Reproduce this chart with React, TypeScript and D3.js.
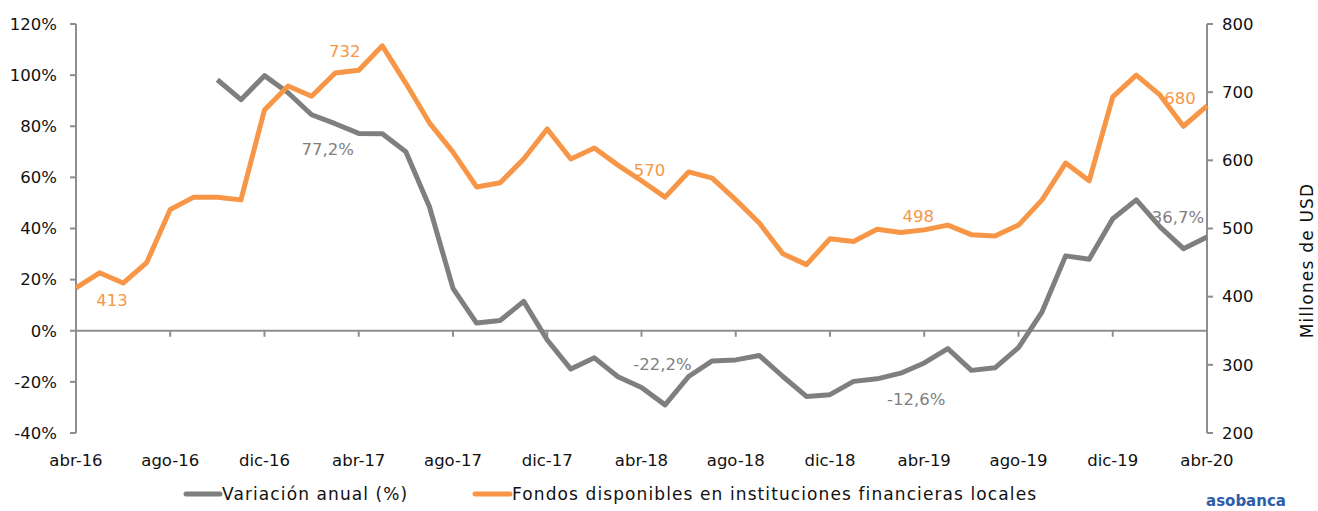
import React from "react";
import * as d3 from "d3";

const months = [
  "abr-16","may-16","jun-16","jul-16","ago-16","sep-16","oct-16","nov-16","dic-16",
  "ene-17","feb-17","mar-17","abr-17","may-17","jun-17","jul-17","ago-17","sep-17","oct-17","nov-17","dic-17",
  "ene-18","feb-18","mar-18","abr-18","may-18","jun-18","jul-18","ago-18","sep-18","oct-18","nov-18","dic-18",
  "ene-19","feb-19","mar-19","abr-19","may-19","jun-19","jul-19","ago-19","sep-19","oct-19","nov-19","dic-19",
  "ene-20","feb-20","mar-20","abr-20"
];

const fondos = [
  413, 435, 420, 450, 528, 546, 546, 542, 674,
  709, 694, 728, 732, 768, 713, 655, 612, 561, 567, 602, 646,
  602, 618, 593, 570, 546, 583, 574, 542, 508, 463, 447, 485,
  481, 499, 494, 498, 505, 491, 489, 505, 542, 596, 570, 693,
  725, 696, 650, 680
];

const variacion: (number | null)[] = [
  null, null, null, null, null, null, 98.2, 90.4, 99.8,
  93.1, 84.5, 81.0, 77.2, 77.1, 70.0, 48.5, 16.6, 3.0, 4.0, 11.5, -3.6,
  -15.0, -10.6, -18.0, -22.2, -29.0, -17.9, -11.8, -11.4, -9.7, -17.9, -25.7, -25.0,
  -19.8, -18.8, -16.6, -12.6, -7.0, -15.5, -14.5, -6.6, 7.4, 29.3, 28.0, 43.8,
  51.2, 40.7, 32.1, 36.7
];

const leftTicks = [-40, -20, 0, 20, 40, 60, 80, 100, 120];
const rightTicks = [200, 300, 400, 500, 600, 700, 800];
const xTickLabels = ["abr-16","ago-16","dic-16","abr-17","ago-17","dic-17","abr-18","ago-18","dic-18","abr-19","ago-19","dic-19","abr-20"];

const fondosLabels = [
  { m: "abr-16", text: "413", dx: 36, dy: 12 },
  { m: "abr-17", text: "732", dx: -14, dy: -19 },
  { m: "abr-18", text: "570", dx: 8, dy: -11 },
  { m: "abr-19", text: "498", dx: -6, dy: -14 },
  { m: "abr-20", text: "680", dx: -27, dy: -8 },
];
const variacionLabels = [
  { m: "abr-17", text: "77,2%", dx: -31, dy: 16 },
  { m: "abr-18", text: "-22,2%", dx: 21, dy: -23 },
  { m: "abr-19", text: "-12,6%", dx: -8, dy: 36 },
  { m: "abr-20", text: "36,7%", dx: -29, dy: -20 },
];

const ORANGE = "#F79646";
const GRAY = "#7F7F7F";
const AXIS = "#8E8E8E";
const FONT = "'DejaVu Sans', 'Open Sans', sans-serif";

export default function App() {
  const W = 1318, H = 511;
  const x0 = 76, x1 = 1207, yTop = 24, yBot = 433;
  const x = d3.scalePoint<string>().domain(months).range([x0, x1]);
  const yL = d3.scaleLinear().domain([-40, 120]).range([yBot, yTop]);
  const yR = d3.scaleLinear().domain([200, 800]).range([yBot, yTop]);

  const lineF = d3.line<number>().x((_, i) => x(months[i])!).y((d) => yR(d));
  const lineV = d3
    .line<number | null>()
    .defined((d) => d !== null)
    .x((_, i) => x(months[i])!)
    .y((d) => yL(d as number));

  const fs = 16.5;
  return (
    <svg width={W} height={H} style={{ position: "absolute", left: 0, top: 0, background: "#fff" }} fontFamily={FONT}>
      {/* left axis */}
      <line x1={x0} x2={x0} y1={yTop} y2={yBot} stroke={AXIS} strokeWidth={2} />
      {leftTicks.map((t) => (
        <g key={"l" + t}>
          <line x1={x0 - 6} x2={x0} y1={yL(t)} y2={yL(t)} stroke={AXIS} strokeWidth={2} />
          <text x={57} y={yL(t)} dy="0.35em" textAnchor="end" fontSize={fs} fill="#111">{t}%</text>
        </g>
      ))}
      {/* right axis */}
      <line x1={x1} x2={x1} y1={yTop} y2={yBot} stroke={AXIS} strokeWidth={2} />
      {rightTicks.map((t) => (
        <g key={"r" + t}>
          <line x1={x1} x2={x1 + 6} y1={yR(t)} y2={yR(t)} stroke={AXIS} strokeWidth={2} />
          <text x={1222} y={yR(t)} dy="0.35em" textAnchor="start" fontSize={fs} fill="#111">{t}</text>
        </g>
      ))}
      {/* x axis at 0% */}
      <line x1={x0} x2={x1} y1={yL(0)} y2={yL(0)} stroke={AXIS} strokeWidth={2} />
      {xTickLabels.map((m) => (
        <g key={"x" + m}>
          <line x1={x(m)!} x2={x(m)!} y1={yL(0)} y2={yL(0) + 6} stroke={AXIS} strokeWidth={2} />
          <text x={x(m)!} y={460} dy="0.35em" textAnchor="middle" fontSize={fs} fill="#111">{m}</text>
        </g>
      ))}
      {/* right axis title */}
      <text transform={`translate(1313,${(yTop + yBot) / 2 + 32}) rotate(-90)`} textAnchor="middle" fontSize={17} letterSpacing={1.2} fill="#111">Millones de USD</text>

      {/* series */}
      <path d={lineV(variacion)!} fill="none" stroke={GRAY} strokeWidth={5} strokeLinejoin="round" />
      <path d={lineF(fondos)!} fill="none" stroke={ORANGE} strokeWidth={5} strokeLinejoin="round" />

      {/* data labels */}
      {fondosLabels.map((l) => {
        const i = months.indexOf(l.m);
        return (
          <text key={"fl" + l.m} x={x(l.m)! + l.dx} y={yR(fondos[i]) + l.dy} dy="0.35em" textAnchor="middle" fontSize={fs} fill={ORANGE}>{l.text}</text>
        );
      })}
      {variacionLabels.map((l) => {
        const i = months.indexOf(l.m);
        return (
          <text key={"vl" + l.m} x={x(l.m)! + l.dx} y={yL(variacion[i] as number) + l.dy} dy="0.35em" textAnchor="middle" fontSize={fs} fill={GRAY}>{l.text}</text>
        );
      })}

      {/* legend */}
      <line x1={186} x2={220} y1={494} y2={494} stroke={GRAY} strokeWidth={5} strokeLinecap="round" />
      <text x={222} y={494} dy="0.35em" fontSize={17} letterSpacing={1.1} fill="#111">Variación anual (%)</text>
      <line x1={475} x2={510} y1={494} y2={494} stroke={ORANGE} strokeWidth={5} strokeLinecap="round" />
      <text x={512} y={494} dy="0.35em" fontSize={17} letterSpacing={1.1} fill="#111">Fondos disponibles en instituciones financieras locales</text>

      {/* logo */}
      <text x={1246} y={506} textAnchor="middle" fontSize={15} fontWeight="bold" fill="#2D5DA8">asobanca</text>
    </svg>
  );
}
